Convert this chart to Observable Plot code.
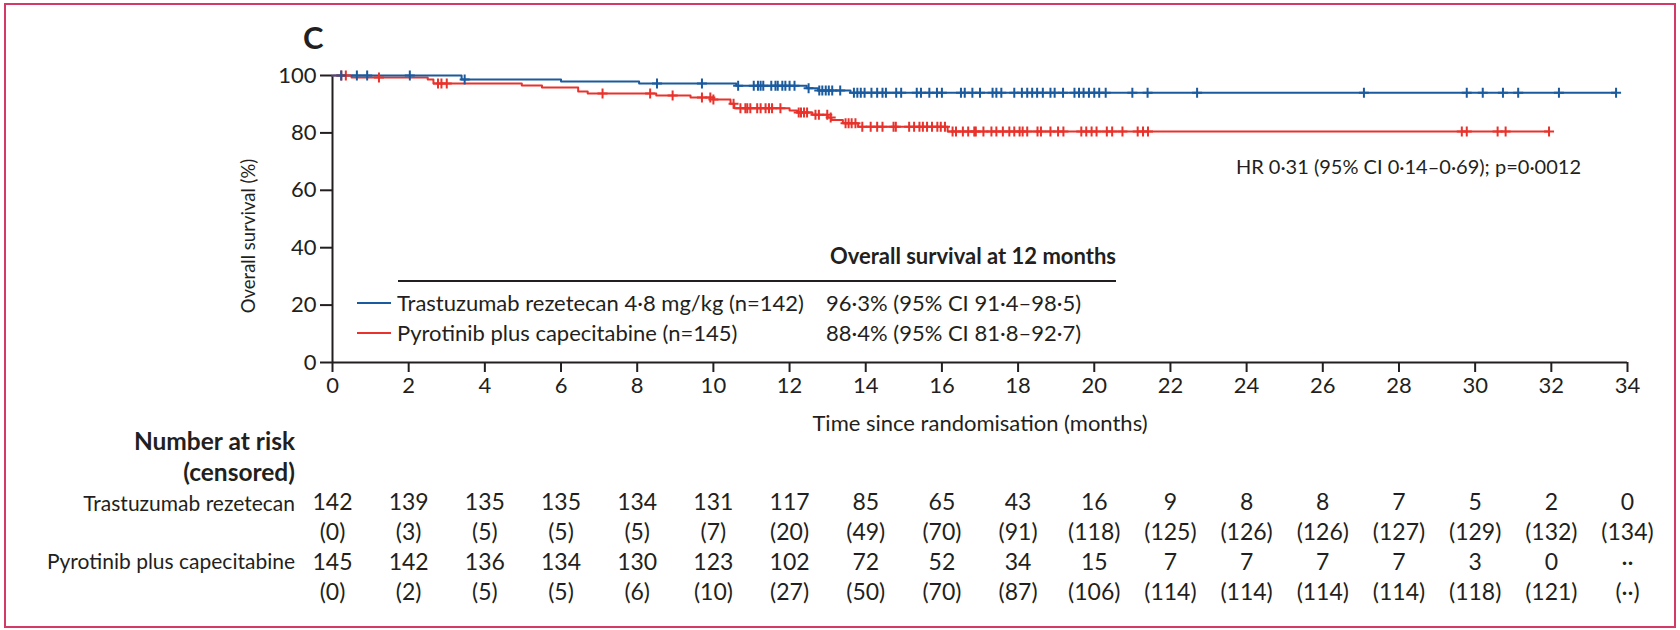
<!DOCTYPE html>
<html><head><meta charset="utf-8">
<script src="https://cdn.jsdelivr.net/npm/d3@7"></script>
<script src="https://cdn.jsdelivr.net/npm/@observablehq/plot@0.6"></script>
<style>
html,body{margin:0;padding:0;background:#fff;}
body{width:1680px;height:630px;overflow:hidden;font-family:Lato,"Open Sans",sans-serif;color:#231f20;}
#wrap{position:relative;width:1680px;height:630px;}
#frame{position:absolute;left:4px;top:3px;width:1672px;height:625px;border:2px solid #d23b67;box-sizing:border-box;pointer-events:none;}
.abs{position:absolute;white-space:nowrap;font-size:22px;line-height:28px;}
.lab{position:absolute;white-space:nowrap;font-size:21px;line-height:28px;right:1385px;text-align:right;}
.labb{font-size:24.5px;font-weight:700;}
.sw{position:absolute;height:2px;}
svg{display:block;}
#chart,#table{position:absolute;left:0;}
#chart{top:0;}
#table{top:432px;}
</style>
</head><body>
<div id="wrap">
  <div id="chart"></div>
  <div id="table"></div>
  <div class="abs" style="left:303px;top:20px;font-size:31px;line-height:34px;font-weight:700;">C</div>
  <div class="abs" style="right:99px;top:154px;font-size:20px;line-height:24px;">HR 0·31 (95% CI 0·14–0·69); p=0·0012</div>
  <div class="abs" style="right:564px;top:242px;font-weight:700;">Overall survival at 12 months</div>
  <div class="sw" style="left:398px;width:718px;top:280px;background:#231f20;"></div>
  <div class="sw" style="left:357px;width:34px;top:302px;background:#1a5a9e;"></div>
  <div class="sw" style="left:357px;width:34px;top:332px;background:#e8322b;"></div>
  <div class="abs" style="left:397px;top:289px;">Trastuzumab rezetecan 4·8 mg/kg (n=142)</div>
  <div class="abs" style="left:397px;top:319px;">Pyrotinib plus capecitabine (n=145)</div>
  <div class="abs" style="left:826px;top:289px;">96·3% (95% CI 91·4–98·5)</div>
  <div class="abs" style="left:826px;top:319px;">88·4% (95% CI 81·8–92·7)</div>
  <div class="lab labb" style="top:427px;">Number at risk</div>
  <div class="lab labb" style="top:458px;">(censored)</div>
  <div class="lab" id="labT" style="top:489px;"></div>
  <div class="lab" id="labP" style="top:547px;"></div>
  <div id="frame"></div>
</div>
<script>
// ---------- data ----------
const seriesNames = ["Trastuzumab rezetecan", "Pyrotinib plus capecitabine"];
// KM steps: [time (months), survival % after the event]
const blueSteps = [[3.39,98.6],[6.0,97.9],[8.05,97.2],[10.6,96.4],[12.45,95.6],[12.75,94.8],[13.6,94.0]];
const blueEnd = 33.7;
const blueCensor = [0.23,0.64,0.91,2.03,3.47,8.52,9.70,10.65,11.06,11.17,11.24,11.31,11.52,11.63,11.69,11.81,11.89,12.0,12.13,12.5,12.78,12.86,12.95,13.03,13.12,13.33,13.69,13.78,13.87,13.97,14.15,14.3,14.44,14.53,14.8,14.93,15.34,15.45,15.67,15.87,16.0,16.5,16.6,16.8,17.0,17.33,17.43,17.56,17.9,18.1,18.24,18.37,18.5,18.65,18.85,18.96,19.18,19.48,19.6,19.72,19.86,20.0,20.13,20.3,21.0,21.4,22.7,27.08,29.78,30.2,30.73,31.13,32.2,33.7];
const redSteps = [[0.5,99.3],[2.5,98.6],[2.65,97.2],[4.97,96.5],[5.5,95.8],[6.45,94.4],[6.7,93.7],[8.5,93.0],[9.4,92.3],[10.0,91.6],[10.45,90.2],[10.55,88.6],[12.0,87.8],[12.2,87.1],[12.6,86.3],[13.0,85.4],[13.1,84.5],[13.4,83.4],[13.8,82.1],[16.15,80.5]];
const redEnd = 31.95;
const redCensor = [0.23,0.35,1.22,2.77,2.86,3.0,7.09,8.34,8.93,9.7,9.92,10.0,10.53,10.71,10.84,10.89,10.97,11.15,11.24,11.37,11.46,11.54,11.76,12.24,12.3,12.38,12.46,12.68,12.77,12.99,13.08,13.47,13.55,13.63,13.73,13.91,14.13,14.3,14.44,14.73,14.79,15.14,15.27,15.41,15.5,15.61,15.74,15.88,15.97,16.08,16.28,16.37,16.55,16.69,16.85,16.89,17.09,17.3,17.43,17.6,17.77,17.9,18.04,18.12,18.24,18.51,18.6,18.85,19.05,19.19,19.66,19.79,19.93,20.06,20.33,20.47,20.74,21.14,21.28,21.41,29.65,29.78,30.59,30.8,31.94];

const xTicks = [0,2,4,6,8,10,12,14,16,18,20,22,24,26,28,30,32,34];
const yTicks = [0,20,40,60,80,100];

const riskTimes = xTicks;
const riskT  = ["142","139","135","135","134","131","117","85","65","43","16","9","8","8","7","5","2","0"];
const riskTc = ["0","3","5","5","5","7","20","49","70","91","118","125","126","126","127","129","132","134"];
const riskP  = ["145","142","136","134","130","123","102","72","52","34","15","7","7","7","7","3","0","··"];
const riskPc = ["0","2","5","5","6","10","27","50","70","87","106","114","114","114","114","118","121","··"];

// ---------- styling ----------
const BLUE = "#1a5a9e", RED = "#e8322b", INK = "#231f20";
const FONT = "Lato, 'Open Sans', sans-serif";

document.getElementById("labT").textContent = seriesNames[0];
document.getElementById("labP").textContent = seriesNames[1];

function survAt(steps, t){ let s = 100; for (const [tt, ss] of steps) if (tt <= t) s = ss; return s; }
function lineData(steps, end){
  const pts = [{t:0, s:100}, ...steps.map(([t,s]) => ({t, s}))];
  pts.push({t:end, s:pts[pts.length-1].s});
  return pts;
}
const plusSym = { draw(ctx, size){ const h = Math.sqrt(size/Math.PI); ctx.moveTo(0,-h); ctx.lineTo(0,h); ctx.moveTo(-h,0); ctx.lineTo(h,0); } };

const blueLine = lineData(blueSteps, blueEnd), redLine = lineData(redSteps, redEnd);
const blueC = blueCensor.map(t => ({t, s: survAt(blueSteps, t)}));
const redC = redCensor.map(t => ({t, s: survAt(redSteps, t)}));

const chart = Plot.plot({
  width: 1680, height: 445,
  marginLeft: 332, marginRight: 53, marginTop: 75, marginBottom: 83,
  style: {fontFamily: FONT, fontSize: "22px", color: INK, background: "transparent"},
  x: {domain: [0, 34]},
  y: {domain: [0, 100]},
  marks: [
    Plot.axisX({ticks: xTicks, tickSize: 10, tickPadding: 5, strokeWidth: 2, tickFormat: d => String(d), fontSize: 22,
      label: "Time since randomisation (months)", labelAnchor: "center", labelArrow: "none", labelOffset: 68}),
    Plot.axisY({ticks: yTicks, tickSize: 12, tickPadding: 4, strokeWidth: 2, tickFormat: d => String(d), fontSize: 22, label: null}),
    Plot.text(["Overall survival (%)"], {frameAnchor: "left", textAnchor: "middle", rotate: -90, dx: -83, dy: 17, fontSize: 18.5, fill: INK}),
    Plot.ruleX([0], {y1: 0, y2: 100, stroke: INK, strokeWidth: 2}),
    Plot.ruleY([0], {x1: 0, x2: 34, stroke: INK, strokeWidth: 2}),
    Plot.line(redLine, {x: "t", y: "s", curve: "step-after", stroke: RED, strokeWidth: 2}),
    Plot.line(blueLine, {x: "t", y: "s", curve: "step-after", stroke: BLUE, strokeWidth: 2}),
    Plot.dot(redC, {x: "t", y: "s", symbol: plusSym, r: 5, stroke: RED, strokeWidth: 2, fill: "none"}),
    Plot.dot(blueC, {x: "t", y: "s", symbol: plusSym, r: 5, stroke: BLUE, strokeWidth: 2, fill: "none"})
  ]
});
document.getElementById("chart").appendChild(chart);

const rows = ["h1","h2","T","Tc","P","Pc"];
const cells = [];
riskTimes.forEach((t,i) => {
  cells.push({t, row:"T", v: riskT[i]});
  cells.push({t, row:"Tc", v: "(" + riskTc[i] + ")"});
  cells.push({t, row:"P", v: riskP[i]});
  cells.push({t, row:"Pc", v: "(" + riskPc[i] + ")"});
});

const table = Plot.plot({
  width: 1680, height: 198,
  marginLeft: 332, marginRight: 53, marginTop: 9, marginBottom: 38,
  style: {fontFamily: FONT, fontSize: "23px", color: INK, background: "transparent"},
  x: {domain: [0, 34], axis: null},
  y: {type: "point", domain: rows, padding: 0, axis: null},
  marks: [
    Plot.text(cells, {x: "t", y: "row", text: "v", fill: INK, fontSize: 23})
  ]
});
document.getElementById("table").appendChild(table);
</script>
</body></html>
